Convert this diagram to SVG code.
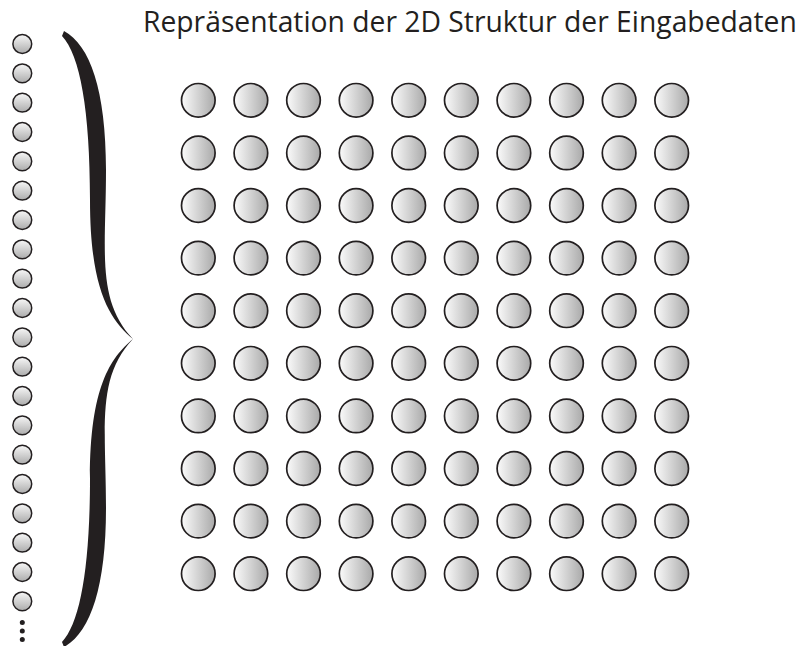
<svg xmlns="http://www.w3.org/2000/svg" width="807" height="646" viewBox="0 0 807 646">
<defs>
<linearGradient id="gH" x1="0" y1="0" x2="1" y2="0">
<stop offset="0" stop-color="#fbfbfb"/>
<stop offset="1" stop-color="#a9a9a9"/>
</linearGradient>
<linearGradient id="gV" x1="0" y1="0" x2="0" y2="1">
<stop offset="0" stop-color="#f7f7f7"/>
<stop offset="1" stop-color="#acacac"/>
</linearGradient>
<style>
.big{fill:url(#gH);stroke:#231f20;stroke-width:1.7}
.small{fill:url(#gV);stroke:#231f20;stroke-width:1.5}
.dot{fill:#231f20}
.title{font-family:"Open Sans","Noto Sans",sans-serif;font-size:30px;fill:#231f20}
.brace{fill:#231f20}
</style>
</defs>
<rect width="807" height="646" fill="#ffffff"/>
<g id="title"><text class="title" transform="scale(0.88 1)" x="162.5" y="32" textLength="743" lengthAdjust="spacingAndGlyphs">Repräsentation der 2D Struktur der Eingabedaten</text></g>
<g id="input-column">
<circle class="small" cx="22.3" cy="44" r="9.4"/>
<circle class="small" cx="22.3" cy="73.3" r="9.4"/>
<circle class="small" cx="22.3" cy="102.7" r="9.4"/>
<circle class="small" cx="22.3" cy="132" r="9.4"/>
<circle class="small" cx="22.3" cy="161.3" r="9.4"/>
<circle class="small" cx="22.3" cy="190.7" r="9.4"/>
<circle class="small" cx="22.3" cy="220" r="9.4"/>
<circle class="small" cx="22.3" cy="249.3" r="9.4"/>
<circle class="small" cx="22.3" cy="278.7" r="9.4"/>
<circle class="small" cx="22.3" cy="308" r="9.4"/>
<circle class="small" cx="22.3" cy="337.3" r="9.4"/>
<circle class="small" cx="22.3" cy="366.7" r="9.4"/>
<circle class="small" cx="22.3" cy="396" r="9.4"/>
<circle class="small" cx="22.3" cy="425.3" r="9.4"/>
<circle class="small" cx="22.3" cy="454.7" r="9.4"/>
<circle class="small" cx="22.3" cy="484" r="9.4"/>
<circle class="small" cx="22.3" cy="513.3" r="9.4"/>
<circle class="small" cx="22.3" cy="542.7" r="9.4"/>
<circle class="small" cx="22.3" cy="572" r="9.4"/>
<circle class="small" cx="22.3" cy="601.3" r="9.4"/>
<circle class="dot" cx="22.3" cy="622.5" r="2.5"/>
<circle class="dot" cx="22.3" cy="631" r="2.5"/>
<circle class="dot" cx="22.3" cy="639.5" r="2.5"/>
</g>
<g id="brace"><path class="brace" d="M64,31 C90,45 106,90 106,170 C106,250 96,300 133,339 C96,378 106,428 106,508 C106,588 90,633 64,647 L62,642 C80,623 90,568 90,478 C90,388 110,358 133,339 C110,320 90,290 90,200 C90,110 80,55 62,36 Z"/></g>
<g id="grid">
<g id="row1"><circle class="big" cx="198.3" cy="100.3" r="16.8"/><circle class="big" cx="250.9" cy="100.3" r="16.8"/><circle class="big" cx="303.5" cy="100.3" r="16.8"/><circle class="big" cx="356.1" cy="100.3" r="16.8"/><circle class="big" cx="408.7" cy="100.3" r="16.8"/><circle class="big" cx="461.3" cy="100.3" r="16.8"/><circle class="big" cx="513.9" cy="100.3" r="16.8"/><circle class="big" cx="566.5" cy="100.3" r="16.8"/><circle class="big" cx="619.1" cy="100.3" r="16.8"/><circle class="big" cx="671.7" cy="100.3" r="16.8"/></g>
<g id="row2"><circle class="big" cx="198.3" cy="152.9" r="16.8"/><circle class="big" cx="250.9" cy="152.9" r="16.8"/><circle class="big" cx="303.5" cy="152.9" r="16.8"/><circle class="big" cx="356.1" cy="152.9" r="16.8"/><circle class="big" cx="408.7" cy="152.9" r="16.8"/><circle class="big" cx="461.3" cy="152.9" r="16.8"/><circle class="big" cx="513.9" cy="152.9" r="16.8"/><circle class="big" cx="566.5" cy="152.9" r="16.8"/><circle class="big" cx="619.1" cy="152.9" r="16.8"/><circle class="big" cx="671.7" cy="152.9" r="16.8"/></g>
<g id="row3"><circle class="big" cx="198.3" cy="205.5" r="16.8"/><circle class="big" cx="250.9" cy="205.5" r="16.8"/><circle class="big" cx="303.5" cy="205.5" r="16.8"/><circle class="big" cx="356.1" cy="205.5" r="16.8"/><circle class="big" cx="408.7" cy="205.5" r="16.8"/><circle class="big" cx="461.3" cy="205.5" r="16.8"/><circle class="big" cx="513.9" cy="205.5" r="16.8"/><circle class="big" cx="566.5" cy="205.5" r="16.8"/><circle class="big" cx="619.1" cy="205.5" r="16.8"/><circle class="big" cx="671.7" cy="205.5" r="16.8"/></g>
<g id="row4"><circle class="big" cx="198.3" cy="258.1" r="16.8"/><circle class="big" cx="250.9" cy="258.1" r="16.8"/><circle class="big" cx="303.5" cy="258.1" r="16.8"/><circle class="big" cx="356.1" cy="258.1" r="16.8"/><circle class="big" cx="408.7" cy="258.1" r="16.8"/><circle class="big" cx="461.3" cy="258.1" r="16.8"/><circle class="big" cx="513.9" cy="258.1" r="16.8"/><circle class="big" cx="566.5" cy="258.1" r="16.8"/><circle class="big" cx="619.1" cy="258.1" r="16.8"/><circle class="big" cx="671.7" cy="258.1" r="16.8"/></g>
<g id="row5"><circle class="big" cx="198.3" cy="310.7" r="16.8"/><circle class="big" cx="250.9" cy="310.7" r="16.8"/><circle class="big" cx="303.5" cy="310.7" r="16.8"/><circle class="big" cx="356.1" cy="310.7" r="16.8"/><circle class="big" cx="408.7" cy="310.7" r="16.8"/><circle class="big" cx="461.3" cy="310.7" r="16.8"/><circle class="big" cx="513.9" cy="310.7" r="16.8"/><circle class="big" cx="566.5" cy="310.7" r="16.8"/><circle class="big" cx="619.1" cy="310.7" r="16.8"/><circle class="big" cx="671.7" cy="310.7" r="16.8"/></g>
<g id="row6"><circle class="big" cx="198.3" cy="363.3" r="16.8"/><circle class="big" cx="250.9" cy="363.3" r="16.8"/><circle class="big" cx="303.5" cy="363.3" r="16.8"/><circle class="big" cx="356.1" cy="363.3" r="16.8"/><circle class="big" cx="408.7" cy="363.3" r="16.8"/><circle class="big" cx="461.3" cy="363.3" r="16.8"/><circle class="big" cx="513.9" cy="363.3" r="16.8"/><circle class="big" cx="566.5" cy="363.3" r="16.8"/><circle class="big" cx="619.1" cy="363.3" r="16.8"/><circle class="big" cx="671.7" cy="363.3" r="16.8"/></g>
<g id="row7"><circle class="big" cx="198.3" cy="415.9" r="16.8"/><circle class="big" cx="250.9" cy="415.9" r="16.8"/><circle class="big" cx="303.5" cy="415.9" r="16.8"/><circle class="big" cx="356.1" cy="415.9" r="16.8"/><circle class="big" cx="408.7" cy="415.9" r="16.8"/><circle class="big" cx="461.3" cy="415.9" r="16.8"/><circle class="big" cx="513.9" cy="415.9" r="16.8"/><circle class="big" cx="566.5" cy="415.9" r="16.8"/><circle class="big" cx="619.1" cy="415.9" r="16.8"/><circle class="big" cx="671.7" cy="415.9" r="16.8"/></g>
<g id="row8"><circle class="big" cx="198.3" cy="468.5" r="16.8"/><circle class="big" cx="250.9" cy="468.5" r="16.8"/><circle class="big" cx="303.5" cy="468.5" r="16.8"/><circle class="big" cx="356.1" cy="468.5" r="16.8"/><circle class="big" cx="408.7" cy="468.5" r="16.8"/><circle class="big" cx="461.3" cy="468.5" r="16.8"/><circle class="big" cx="513.9" cy="468.5" r="16.8"/><circle class="big" cx="566.5" cy="468.5" r="16.8"/><circle class="big" cx="619.1" cy="468.5" r="16.8"/><circle class="big" cx="671.7" cy="468.5" r="16.8"/></g>
<g id="row9"><circle class="big" cx="198.3" cy="521.1" r="16.8"/><circle class="big" cx="250.9" cy="521.1" r="16.8"/><circle class="big" cx="303.5" cy="521.1" r="16.8"/><circle class="big" cx="356.1" cy="521.1" r="16.8"/><circle class="big" cx="408.7" cy="521.1" r="16.8"/><circle class="big" cx="461.3" cy="521.1" r="16.8"/><circle class="big" cx="513.9" cy="521.1" r="16.8"/><circle class="big" cx="566.5" cy="521.1" r="16.8"/><circle class="big" cx="619.1" cy="521.1" r="16.8"/><circle class="big" cx="671.7" cy="521.1" r="16.8"/></g>
<g id="row10"><circle class="big" cx="198.3" cy="573.7" r="16.8"/><circle class="big" cx="250.9" cy="573.7" r="16.8"/><circle class="big" cx="303.5" cy="573.7" r="16.8"/><circle class="big" cx="356.1" cy="573.7" r="16.8"/><circle class="big" cx="408.7" cy="573.7" r="16.8"/><circle class="big" cx="461.3" cy="573.7" r="16.8"/><circle class="big" cx="513.9" cy="573.7" r="16.8"/><circle class="big" cx="566.5" cy="573.7" r="16.8"/><circle class="big" cx="619.1" cy="573.7" r="16.8"/><circle class="big" cx="671.7" cy="573.7" r="16.8"/></g>
</g>
</svg>
